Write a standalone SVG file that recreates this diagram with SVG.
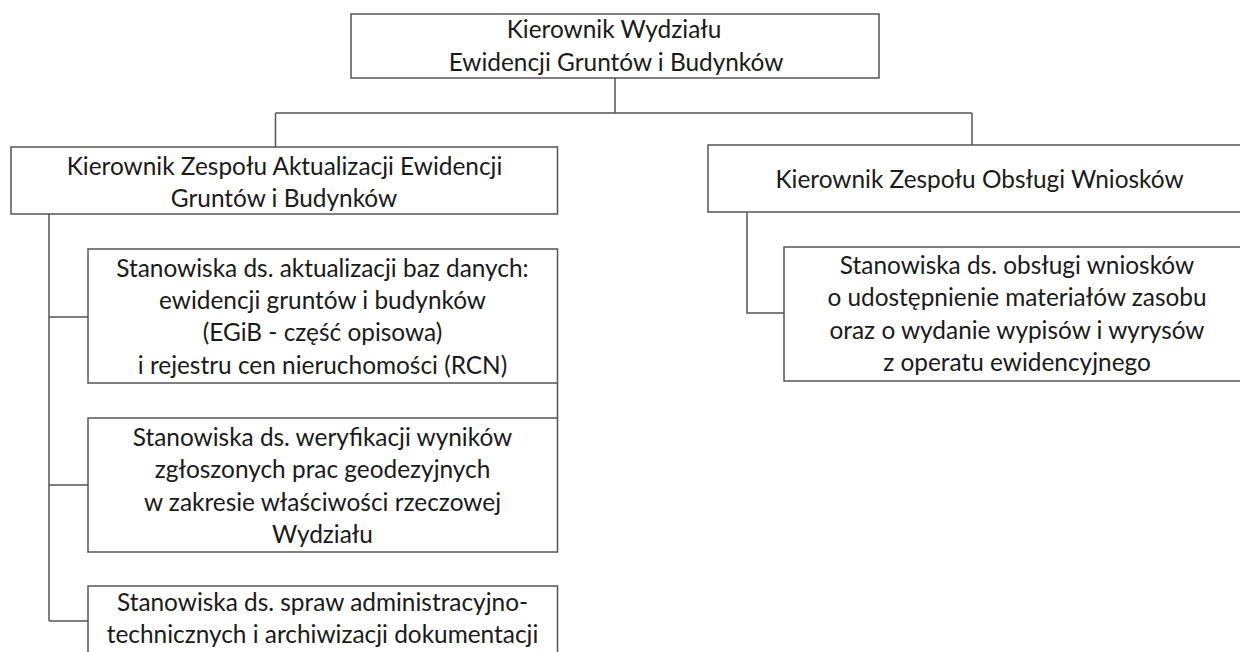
<svg xmlns="http://www.w3.org/2000/svg" width="1240" height="652" viewBox="0 0 1240 652">
<style>
.box{fill:#fff;stroke:#555;stroke-width:1.5}
.ln{fill:none;stroke:#555;stroke-width:1.5}
text{font-family:Lato,"Open Sans","Liberation Sans",sans-serif;font-size:24.4px;fill:#1a1a1a;text-anchor:middle}
</style>
<rect width="1240" height="652" fill="#fff"/>
<g id="connectors">
<path class="ln" d="M615,78 V113 M275.5,113 H972 M275.5,113 V147 M972,113 V145"/>
<path class="ln" d="M49,214 V621 M49,317 H88 M49,485 H88 M49,621 H88 M557.5,383 V418"/>
<path class="ln" d="M747,212 V313 H784"/>
</g>
<g id="n-top">
<rect class="box" x="351" y="14" width="528" height="64"/>
<text x="614" y="38">Kierownik Wydziału</text>
<text x="616" y="71">Ewidencji Gruntów i Budynków</text>
</g>
<g id="n-left">
<rect class="box" x="11" y="147" width="546.5" height="67"/>
<text x="284.5" y="175">Kierownik Zespołu Aktualizacji Ewidencji</text>
<text x="284" y="207">Gruntów i Budynków</text>
</g>
<g id="n-right">
<rect class="box" x="708" y="145" width="545" height="67"/>
<text x="979.5" y="188">Kierownik Zespołu Obsługi Wniosków</text>
</g>
<g id="n-l1">
<rect class="box" x="88" y="249" width="469.5" height="134"/>
<text x="322.5" y="277">Stanowiska ds. aktualizacji baz danych:</text>
<text x="322.5" y="309">ewidencji gruntów i budynków</text>
<text x="322.5" y="341">(EGiB - część opisowa)</text>
<text x="322.5" y="374">i rejestru cen nieruchomości (RCN)</text>
</g>
<g id="n-l2">
<rect class="box" x="88" y="418" width="469.5" height="134"/>
<text x="322.5" y="446">Stanowiska ds. weryfikacji wyników</text>
<text x="322.5" y="478">zgłoszonych prac geodezyjnych</text>
<text x="322.5" y="511">w zakresie właściwości rzeczowej</text>
<text x="322.5" y="543">Wydziału</text>
</g>
<g id="n-l3">
<rect class="box" x="88" y="586" width="469.5" height="90"/>
<text x="322.5" y="611">Stanowiska ds. spraw administracyjno-</text>
<text x="322.5" y="643">technicznych i archiwizacji dokumentacji</text>
</g>
<g id="n-r1">
<rect class="box" x="784" y="247" width="470" height="134"/>
<text x="1017" y="274">Stanowiska ds. obsługi wniosków</text>
<text x="1017" y="306">o udostępnienie materiałów zasobu</text>
<text x="1017" y="339">oraz o wydanie wypisów i wyrysów</text>
<text x="1017" y="371">z operatu ewidencyjnego</text>
</g>
</svg>
